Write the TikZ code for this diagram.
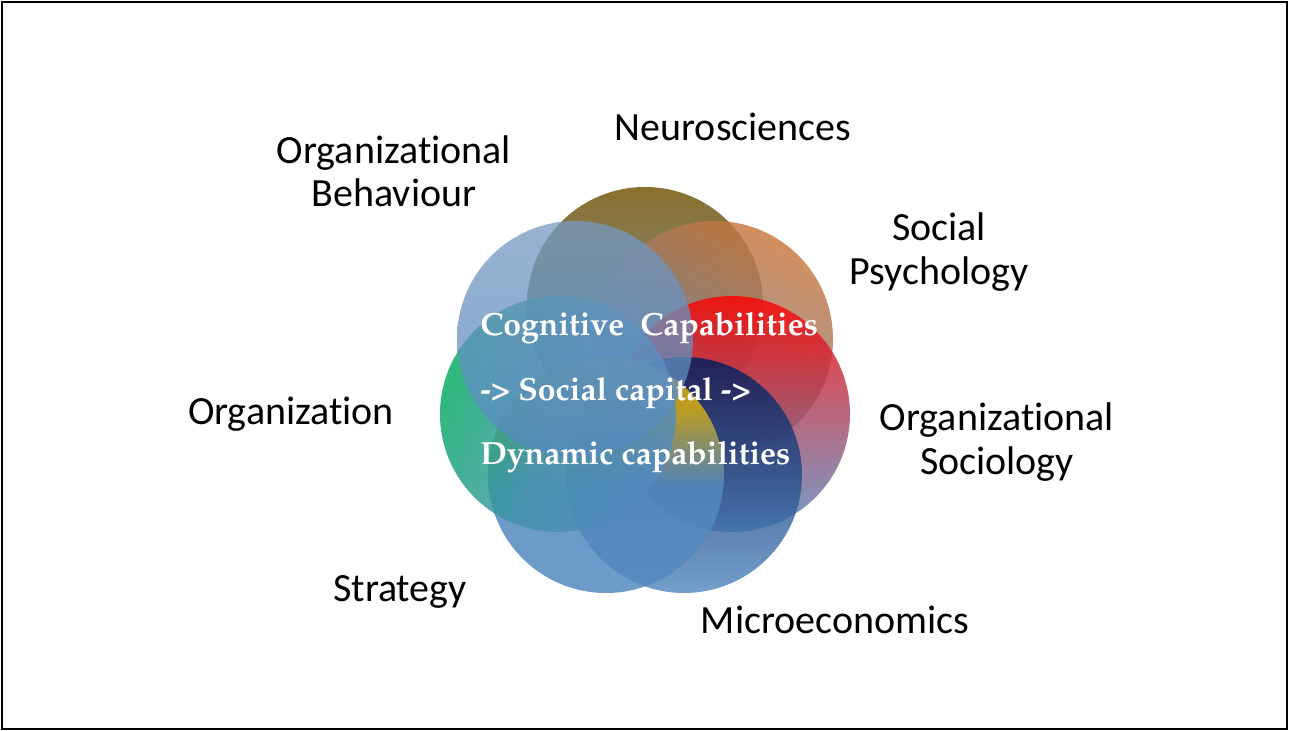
\documentclass[tikz,border=0pt]{standalone}
\usepackage[T1]{fontenc}
\usepackage{fontspec}
\setmainfont{Carlito}[Ligatures=NoCommon]
\newcommand{\palbold}{\fontencoding{T1}\fontfamily{ppl}\fontseries{b}\selectfont}
\definecolor{petalblue}{RGB}{84,138,192}
\definecolor{neurotop}{RGB}{112,80,0}
\definecolor{socpsytop}{RGB}{200,118,60}
\definecolor{orgsoctop}{RGB}{255,0,0}
\definecolor{microtop}{RGB}{0,28,90}
\definecolor{strattop}{RGB}{214,176,20}
\definecolor{organiztop}{RGB}{0,170,95}
\definecolor{orgbehtop}{RGB}{118,152,192}
\pgfdeclareverticalshading{stratshade}{100bp}{color(0bp)=(petalblue); color(48bp)=(petalblue); color(64bp)=(strattop); color(100bp)=(strattop)}
\begin{document}
\begin{tikzpicture}[x=0.75pt,y=-0.75pt,
  petal/.style={circle, minimum size=177pt, inner sep=0pt, fill opacity=0.82, bottom color=petalblue},
  field/.style={font=\fontsize{30}{32.5}\selectfont, align=center},
  core/.style={font=\palbold\fontsize{24}{28}\selectfont, text=white, anchor=west, inner sep=0pt}]
\useasboundingbox (0,0) rectangle (1289,731);
\draw[line width=1.5pt] (2,2) rectangle (1287,729);
% the seven overlapping circles, clockwise from the top
\node[petal, top color=neurotop, middle color=neurotop!55!petalblue] (neuro) at (645,305) {};
\node[petal, top color=socpsytop, middle color=socpsytop!55!petalblue, shading angle=-30] (socpsy) at (715,339) {};
\node[petal, top color=orgsoctop, middle color=orgsoctop!50!petalblue] (orgsoc) at (732,414) {};
\node[petal, top color=microtop, middle color=microtop!55!petalblue] (microeco) at (684,475) {};
\node[petal, shading=stratshade, fill opacity=0.85] (strategy) at (606,475) {};
\node[petal, top color=organiztop, middle color=organiztop!20!petalblue, shading angle=70] (organiz) at (558,414) {};
\node[petal, top color=orgbehtop, fill opacity=0.75] (orgbeh) at (575,339) {};
% text in the middle
\node[core] (cogline) at (480,328) {Cognitive\ \ Capabilities};
\node[core] (socline) at (480,393) {-> Social capital ->};
\node[core] (dynline) at (480,457) {Dynamic capabilities};
% disciplines round the outside
\node[field] (neurolbl) at (733,127) {Neurosciences};
\node[field] (orgbehlbl) at (394,171) {Organizational\\Behaviour};
\node[field] (socpsylbl) at (939,252) {Social\\Psychology};
\node[field] (organizlbl) at (291,414) {Organization};
\node[field] (orgsoclbl) at (997,442) {Organizational\\Sociology};
\node[field] (stratlbl) at (400,592) {Strategy};
\node[field] (microlbl) at (835,620) {Microeconomics};
\end{tikzpicture}
\end{document}
